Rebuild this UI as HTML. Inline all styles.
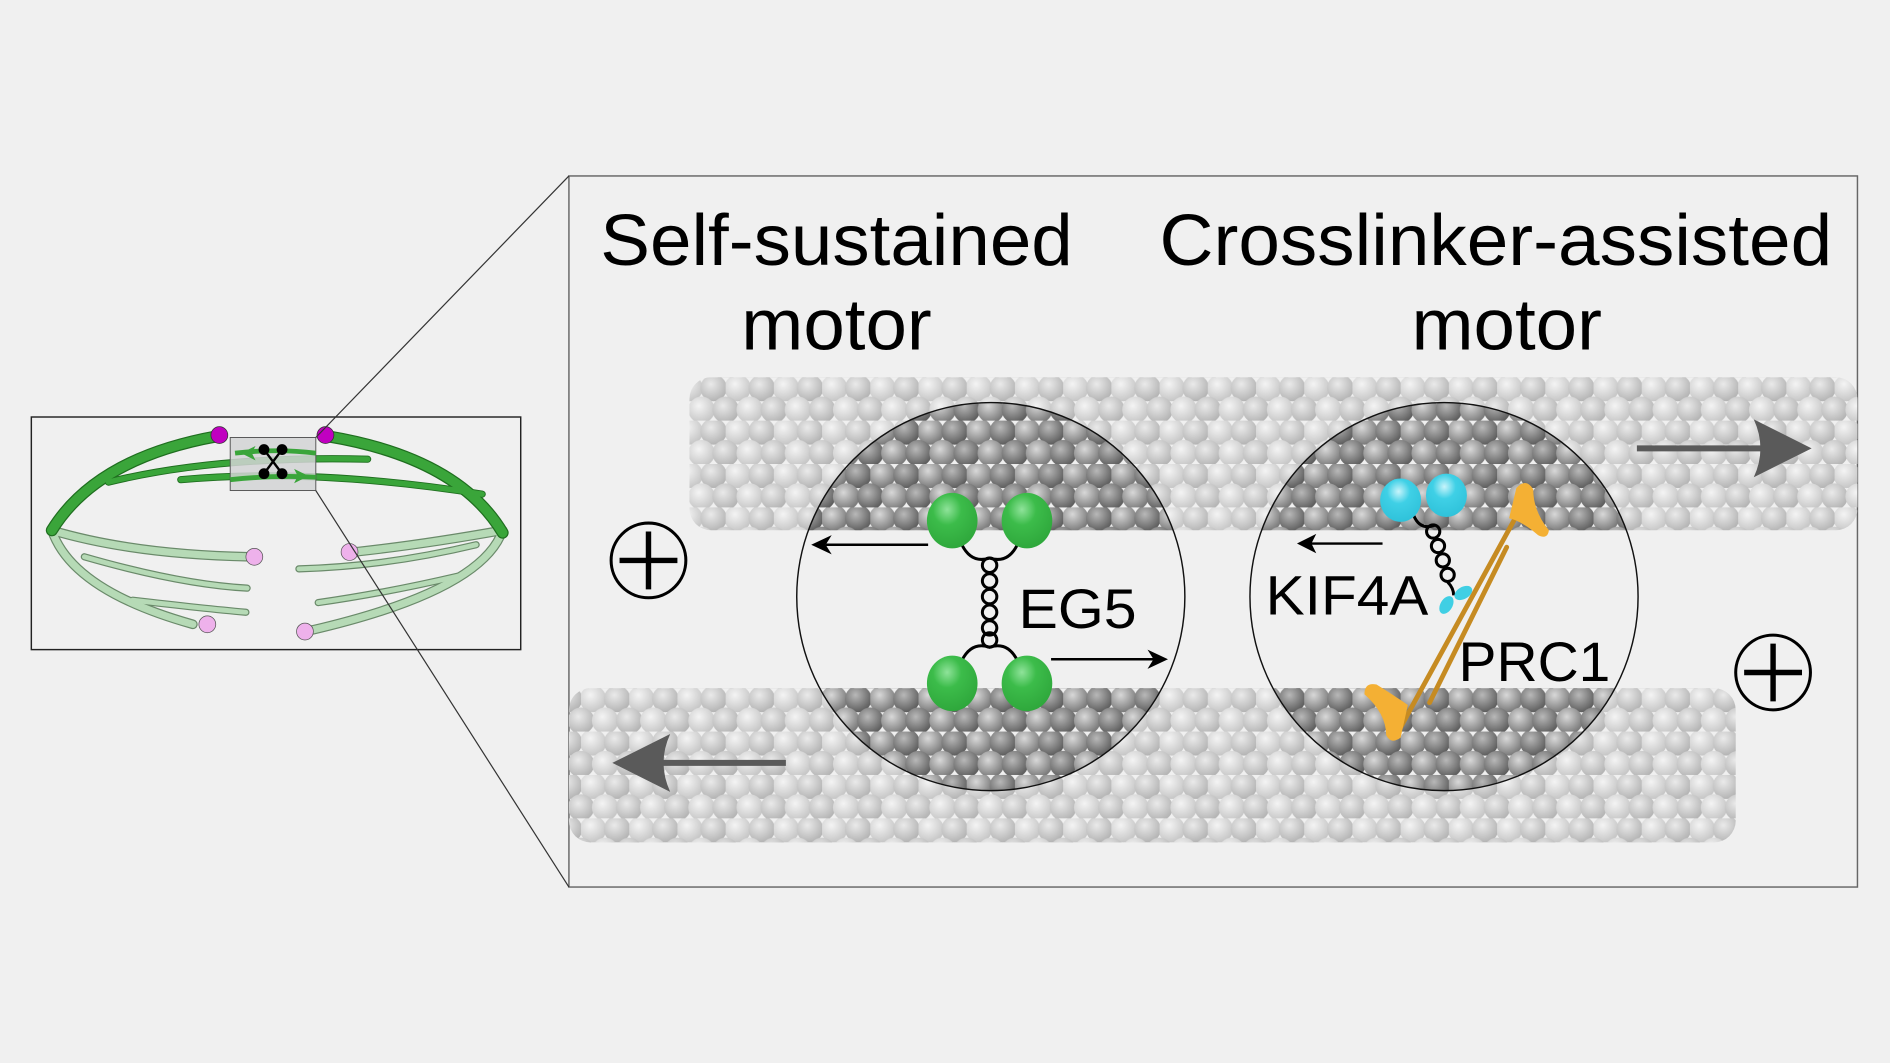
<!DOCTYPE html>
<html><head><meta charset="utf-8"><style>
html,body{margin:0;padding:0;background:#f0f0f0;}
svg{display:block;}
text{font-family:"Liberation Sans",sans-serif;}
</style></head><body>
<svg width="1890" height="1063" viewBox="0 0 1568 882" preserveAspectRatio="none" xmlns="http://www.w3.org/2000/svg">
<defs>
<radialGradient id="bl" cx="0.4" cy="0.35" r="0.65"><stop offset="0" stop-color="#f4f4f4"/><stop offset="1" stop-color="#c6c6c6"/></radialGradient>
<radialGradient id="bl2" cx="0.4" cy="0.35" r="0.65"><stop offset="0" stop-color="#eaeaea"/><stop offset="1" stop-color="#b4b4b4"/></radialGradient>
<radialGradient id="bd" cx="0.4" cy="0.35" r="0.65"><stop offset="0" stop-color="#d8d8d8"/><stop offset="1" stop-color="#7a7a7a"/></radialGradient>
<radialGradient id="bd2" cx="0.4" cy="0.35" r="0.65"><stop offset="0" stop-color="#b8b8b8"/><stop offset="1" stop-color="#5e5e5e"/></radialGradient>
<pattern id="pl" width="40" height="36" patternUnits="userSpaceOnUse" x="2" y="313">
<circle cx="10" cy="9" r="11" fill="url(#bl)"/><circle cx="30" cy="9" r="11" fill="url(#bl2)"/>
<circle cx="0" cy="27" r="11" fill="url(#bl2)"/><circle cx="20" cy="27" r="11" fill="url(#bl)"/><circle cx="40" cy="27" r="11" fill="url(#bl2)"/>
</pattern>
<pattern id="pd" width="40" height="36" patternUnits="userSpaceOnUse" x="2" y="313">
<circle cx="10" cy="9" r="11" fill="url(#bd)"/><circle cx="30" cy="9" r="11" fill="url(#bd2)"/>
<circle cx="0" cy="27" r="11" fill="url(#bd2)"/><circle cx="20" cy="27" r="11" fill="url(#bd)"/><circle cx="40" cy="27" r="11" fill="url(#bd2)"/>
</pattern>
<pattern id="pl2" width="40" height="36" patternUnits="userSpaceOnUse" x="2" y="571">
<circle cx="10" cy="9" r="11" fill="url(#bl)"/><circle cx="30" cy="9" r="11" fill="url(#bl2)"/>
<circle cx="0" cy="27" r="11" fill="url(#bl2)"/><circle cx="20" cy="27" r="11" fill="url(#bl)"/><circle cx="40" cy="27" r="11" fill="url(#bl2)"/>
</pattern>
<pattern id="pd2" width="40" height="36" patternUnits="userSpaceOnUse" x="2" y="571">
<circle cx="10" cy="9" r="11" fill="url(#bd)"/><circle cx="30" cy="9" r="11" fill="url(#bd2)"/>
<circle cx="0" cy="27" r="11" fill="url(#bd2)"/><circle cx="20" cy="27" r="11" fill="url(#bd)"/><circle cx="40" cy="27" r="11" fill="url(#bd2)"/>
</pattern>
<clipPath id="cc"><circle cx="822" cy="495" r="161"/><circle cx="1198" cy="495" r="161"/></clipPath>
<radialGradient id="gg" cx="0.4" cy="0.3" r="0.7"><stop offset="0" stop-color="#8fe39a"/><stop offset="0.4" stop-color="#3cbc4a"/><stop offset="1" stop-color="#2fa83c"/></radialGradient>
<radialGradient id="cg" cx="0.45" cy="0.3" r="0.7"><stop offset="0" stop-color="#c8f4fb"/><stop offset="0.4" stop-color="#3fd0e6"/><stop offset="1" stop-color="#2fc2da"/></radialGradient>
</defs>
<rect width="1568" height="882" fill="#f0f0f0"/>

<rect x="472" y="146" width="1069" height="590" fill="#f0f0f0" stroke="#666" stroke-width="1.2"/>

<rect x="572" y="313" width="969" height="127" rx="18" fill="url(#pl)"/>
<rect x="472" y="571" width="968" height="128" rx="18" fill="url(#pl2)"/>
<g clip-path="url(#cc)">
<rect x="572" y="313" width="969" height="127" rx="18" fill="url(#pd)"/>
<rect x="472" y="571" width="968" height="128" rx="18" fill="url(#pd2)"/>
</g>
<circle cx="822" cy="495" r="161" fill="none" stroke="#111" stroke-width="1.2"/>
<circle cx="1198" cy="495" r="161" fill="none" stroke="#111" stroke-width="1.2"/>

<line x1="1358" y1="372" x2="1470" y2="372" stroke="#5a5a5a" stroke-width="5"/>
<path d="M1503 372 L1455 348 Q1466 372 1455 396 Z" fill="#5a5a5a"/>
<line x1="652" y1="633" x2="540" y2="633" stroke="#5a5a5a" stroke-width="5"/>
<path d="M508 633 L556 609 Q545 633 556 657 Z" fill="#5a5a5a"/>

<circle cx="538" cy="465" r="31" fill="none" stroke="#000" stroke-width="2.5"/>
<path d="M514 465 H562 M538 441 V489" stroke="#000" stroke-width="4.5"/>
<circle cx="1471" cy="558" r="31" fill="none" stroke="#000" stroke-width="2.5"/>
<path d="M1447 558 H1495 M1471 534 V582" stroke="#000" stroke-width="4.5"/>

<text x="498" y="220" font-size="60" textLength="392" lengthAdjust="spacingAndGlyphs">Self-sustained</text>
<text x="615" y="290" font-size="60" textLength="158" lengthAdjust="spacingAndGlyphs">motor</text>
<text x="962" y="220" font-size="60" textLength="558" lengthAdjust="spacingAndGlyphs">Crosslinker-assisted</text>
<text x="1171" y="290" font-size="60" textLength="158" lengthAdjust="spacingAndGlyphs">motor</text>

<g fill="none" stroke="#000" stroke-width="2.5">
<path d="M798 452 Q806 468 821 463 Q836 468 844 452"/>
<path d="M798 548 Q806 532 821 537 Q836 532 844 548"/>
<circle cx="821" cy="469" r="6"/><circle cx="821" cy="482" r="6"/><circle cx="821" cy="495" r="6"/><circle cx="821" cy="508" r="6"/><circle cx="821" cy="521" r="6"/><circle cx="821" cy="531" r="6"/>
</g>
<ellipse cx="790" cy="432" rx="21" ry="23" fill="url(#gg)"/>
<ellipse cx="852" cy="432" rx="21" ry="23" fill="url(#gg)"/>
<ellipse cx="790" cy="567" rx="21" ry="23" fill="url(#gg)"/>
<ellipse cx="852" cy="567" rx="21" ry="23" fill="url(#gg)"/>
<line x1="770" y1="452" x2="685" y2="452" stroke="#000" stroke-width="2"/>
<path d="M673 452 L690 444 L685 452 L690 460 Z" fill="#000"/>
<line x1="872" y1="547" x2="957" y2="547" stroke="#000" stroke-width="2"/>
<path d="M969 547 L952 539 L957 547 L952 555 Z" fill="#000"/>
<text x="845" y="521" font-size="46" textLength="98" lengthAdjust="spacingAndGlyphs">EG5</text>

<g stroke="#c68b22" stroke-width="4" stroke-linecap="round">
<line x1="1160" y1="607" x2="1268" y2="410"/>
<line x1="1186" y1="583" x2="1250" y2="454"/>
</g>
<path d="M1258 405 Q1266 396 1272 406 Q1272 424 1285 440 Q1284 448 1276 444 Q1262 432 1252 430 Z" fill="#f4b034"/>
<path d="M1162 612 Q1154 618 1150 610 Q1150 592 1132 576 Q1132 566 1142 568 Q1158 578 1168 585 Z" fill="#f4b034"/>

<g fill="none" stroke="#000" stroke-width="2.5">
<path d="M1173 428 Q1178 440 1190 436"/>
<circle cx="1189" cy="441" r="5.5"/><circle cx="1193" cy="453" r="5.5"/><circle cx="1197" cy="465" r="5.5"/><circle cx="1201" cy="477" r="5.5"/>
<path d="M1201 483 Q1206 488 1206 494"/>
</g>
<ellipse cx="1162" cy="415" rx="17" ry="18" fill="url(#cg)"/>
<ellipse cx="1200" cy="411" rx="17" ry="18" fill="url(#cg)"/>
<ellipse cx="1200" cy="502" rx="5" ry="8" transform="rotate(30 1200 502)" fill="#40cfe4"/>
<ellipse cx="1214" cy="492" rx="5" ry="8" transform="rotate(60 1214 492)" fill="#40cfe4"/>
<line x1="1147" y1="451" x2="1088" y2="451" stroke="#000" stroke-width="2"/>
<path d="M1076 451 L1092 443 L1088 451 L1092 459 Z" fill="#000"/>
<text x="1050" y="510" font-size="46" textLength="135" lengthAdjust="spacingAndGlyphs">KIF4A</text>
<text x="1210" y="565" font-size="46" textLength="126" lengthAdjust="spacingAndGlyphs">PRC1</text>

<!-- left spindle box -->
<rect x="26" y="346" width="406" height="193" fill="#f0f0f0" stroke="#222" stroke-width="1.2"/>
<g fill="none" stroke-linecap="round">
<g stroke="#6a8a6a" stroke-width="8">
<path d="M43 440 Q60 490 160 518"/>
<path d="M43 440 Q110 460 207 462"/>
<path d="M70 462 Q150 485 205 488" stroke-width="6"/>
<path d="M110 498 Q170 505 204 508" stroke-width="6"/>
<path d="M417 440 Q400 490 258 523"/>
<path d="M417 440 Q350 452 294 458"/>
<path d="M395 452 Q320 470 248 472" stroke-width="6"/>
<path d="M380 478 Q320 492 264 500" stroke-width="6"/>
</g>
<g stroke="#b6dab6" stroke-width="6">
<path d="M43 440 Q60 490 160 518"/>
<path d="M43 440 Q110 460 207 462"/>
<path d="M70 462 Q150 485 205 488" stroke-width="4"/>
<path d="M110 498 Q170 505 204 508" stroke-width="4"/>
<path d="M417 440 Q400 490 258 523"/>
<path d="M417 440 Q350 452 294 458"/>
<path d="M395 452 Q320 470 248 472" stroke-width="4"/>
<path d="M380 478 Q320 492 264 500" stroke-width="4"/>
</g>
<g stroke="#1f6e1f" stroke-width="10">
<path d="M43 440 Q80 380 180 362"/>
<path d="M417 442 Q380 380 272 362"/>
<path d="M90 400 Q180 378 305 381" stroke-width="6"/>
<path d="M150 398 Q260 388 400 410" stroke-width="6"/>
</g>
<g stroke="#3aa53a" stroke-width="8">
<path d="M43 440 Q80 380 180 362"/>
<path d="M417 442 Q380 380 272 362"/>
<path d="M90 400 Q180 378 305 381" stroke-width="4.5"/>
<path d="M150 398 Q260 388 400 410" stroke-width="4.5"/>
</g>
</g>
<rect x="191" y="363" width="71" height="44" fill="#d2d3d5" fill-opacity="0.85" stroke="#555" stroke-width="0.8"/>
<path d="M195 376 Q230 372 262 376" stroke="#3aa53a" stroke-width="4" fill="none"/>
<path d="M191 398 Q230 394 262 396" stroke="#3aa53a" stroke-width="4" fill="none"/>
<path d="M200 376 L212 370 L209 376 L212 382 Z M256 395 L244 389 L247 395 L244 401 Z" fill="#3aa53a"/>
<path d="M219 373 L234 393 M234 373 L219 393" stroke="#000" stroke-width="2"/>
<circle cx="219" cy="373" r="4.5"/><circle cx="234" cy="373" r="4.5"/><circle cx="219" cy="393" r="4.5"/><circle cx="234" cy="393" r="4.5"/>
<circle cx="182" cy="361" r="7" fill="#c000c0" stroke="#333" stroke-width="0.6"/>
<circle cx="270" cy="361" r="7" fill="#c000c0" stroke="#333" stroke-width="0.6"/>
<circle cx="211" cy="462" r="7" fill="#eeb1eb" stroke="#555" stroke-width="0.6"/>
<circle cx="290" cy="458" r="7" fill="#eeb1eb" stroke="#555" stroke-width="0.6"/>
<circle cx="172" cy="518" r="7" fill="#eeb1eb" stroke="#555" stroke-width="0.6"/>
<circle cx="253" cy="524" r="7" fill="#eeb1eb" stroke="#555" stroke-width="0.6"/>

<line x1="472" y1="146" x2="262" y2="363" stroke="#333" stroke-width="1"/>
<line x1="472" y1="736" x2="262" y2="407" stroke="#333" stroke-width="1"/>
</svg>
</body></html>
